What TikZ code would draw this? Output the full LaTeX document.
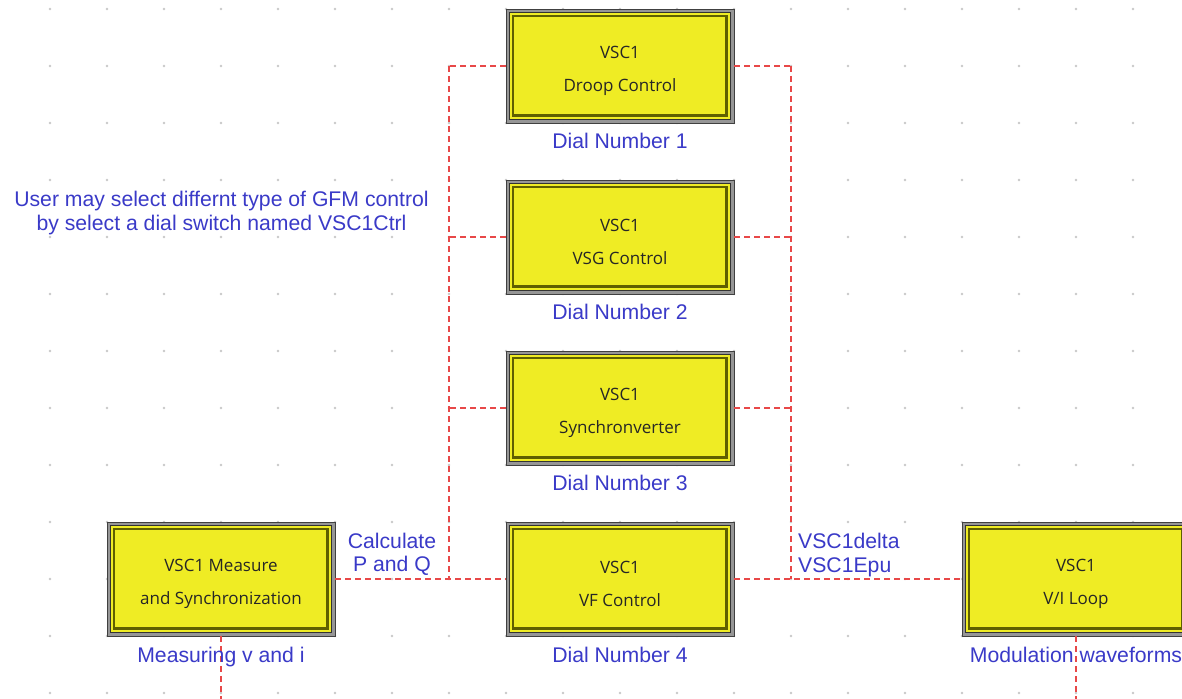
\documentclass[tikz,border=0pt]{standalone}
\usepackage{fontspec}
\setmainfont{Liberation Sans}
\newfontfamily\boxfont{Open Sans}
\definecolor{boxyellow}{RGB}{239,236,36}
\definecolor{boxolive}{RGB}{95,95,0}
\definecolor{lblue}{RGB}{58,58,200}
\definecolor{wred}{RGB}{232,72,72}
\definecolor{dotgray}{RGB}{200,200,200}
\definecolor{framegray}{RGB}{150,150,150}
\newcommand\boxlines[2]{\rule{0pt}{22.5pt}#1\\#2}
\begin{document}
\begin{tikzpicture}[x=1pt,y=-1pt,
  ctrl/.style={rectangle, minimum width=228pt, minimum height=114pt, inner sep=0pt,
    fill=framegray, draw=black!75, line width=0.9pt, align=center,
    font=\boxfont\fontsize{17}{33}\selectfont, text=black!85,
    path picture={
      \draw[black!80, line width=1pt, fill=boxyellow]
        ([shift={(3.5,3.5)}]path picture bounding box.north west) rectangle
        ([shift={(-3.5,-3.5)}]path picture bounding box.south east);
      \draw[boxolive, line width=1.4pt]
        ([shift={(7,7)}]path picture bounding box.north west) rectangle
        ([shift={(-7,-7)}]path picture bounding box.south east);
      \draw[boxolive, line width=2.6pt]
        ([shift={(7,-7.5)}]path picture bounding box.south west) --
        ([shift={(-7.5,-7.5)}]path picture bounding box.south east) --
        ([shift={(-7.5,7)}]path picture bounding box.north east);
    }},
  lbl/.style={text=lblue, font=\fontsize{21.2}{23.5}\selectfont, inner sep=0pt, align=center},
  wire/.style={draw=wred, dash pattern=on 6pt off 4pt, line width=1.5pt}]
\useasboundingbox[fill=white] (0,0) rectangle (1182,698);
% grid dots
\foreach \i in {0,...,19} {
  \foreach \j in {0,...,12} {
    \fill[dotgray] (50+57*\i, 9+57*\j) circle (1.3);
  }
}
% wiring coordinates
\coordinate (lt) at (449,66);
\coordinate (lb) at (449,579);
\coordinate (rt) at (791,66);
\coordinate (rb) at (791,579);
\coordinate (mbot) at (221,700);
\coordinate (vbot) at (1076,700);
% wires (drawn first, under the boxes)
\draw[wire] (lt) -- (lb);
\draw[wire] (rt) -- (rb);
% boxes
\node[ctrl] (droop) at (620,66) {\boxlines{VSC1}{Droop Control}};
\node[ctrl] (vsg) at (620,237) {\boxlines{VSC1}{VSG Control}};
\node[ctrl] (sync) at (620,408) {\boxlines{VSC1}{Synchronverter}};
\node[ctrl] (vf) at (620,579) {\boxlines{VSC1}{VF Control}};
\node[ctrl] (meas) at (221,579) {\boxlines{VSC1 Measure}{and Synchronization}};
\node[ctrl] (vi) at (1076,579) {\boxlines{VSC1}{V/I Loop}};
% connectors
\draw[wire] (droop.west) -- (lt);
\draw[wire] (vsg.west) -- (vsg.west -| lt);
\draw[wire] (sync.west) -- (sync.west -| lt);
\draw[wire] (droop.east) -- (rt);
\draw[wire] (vsg.east) -- (vsg.east -| rt);
\draw[wire] (sync.east) -- (sync.east -| rt);
\draw[wire] (meas.east) -- (vf.west);
\draw[wire] (vf.east) -- (vi.west);
\draw[wire] (meas.south) -- (mbot);
\draw[wire] (vi.south) -- (vbot);
% labels
\node[lbl, anchor=base] (d1) at (620,148) {Dial Number 1};
\node[lbl, anchor=base] (d2) at (620,319) {Dial Number 2};
\node[lbl, anchor=base] (d3) at (620,490) {Dial Number 3};
\node[lbl, anchor=base] (d4) at (620,662) {Dial Number 4};
\node[lbl, anchor=base] (mv) at (221,662) {Measuring v and i};
\node[lbl, anchor=base] (mw) at (1076,662) {Modulation waveforms};
\node[lbl] (note) at (221.5,213) {User may select differnt type of GFM control\\by select a dial switch named VSC1Ctrl};
\node[lbl] (pq) at (392,554.5) {Calculate\\P and Q};
\node[lbl, anchor=west, align=left] (de) at (798,555) {VSC1delta\\VSC1Epu};
\end{tikzpicture}
\end{document}
